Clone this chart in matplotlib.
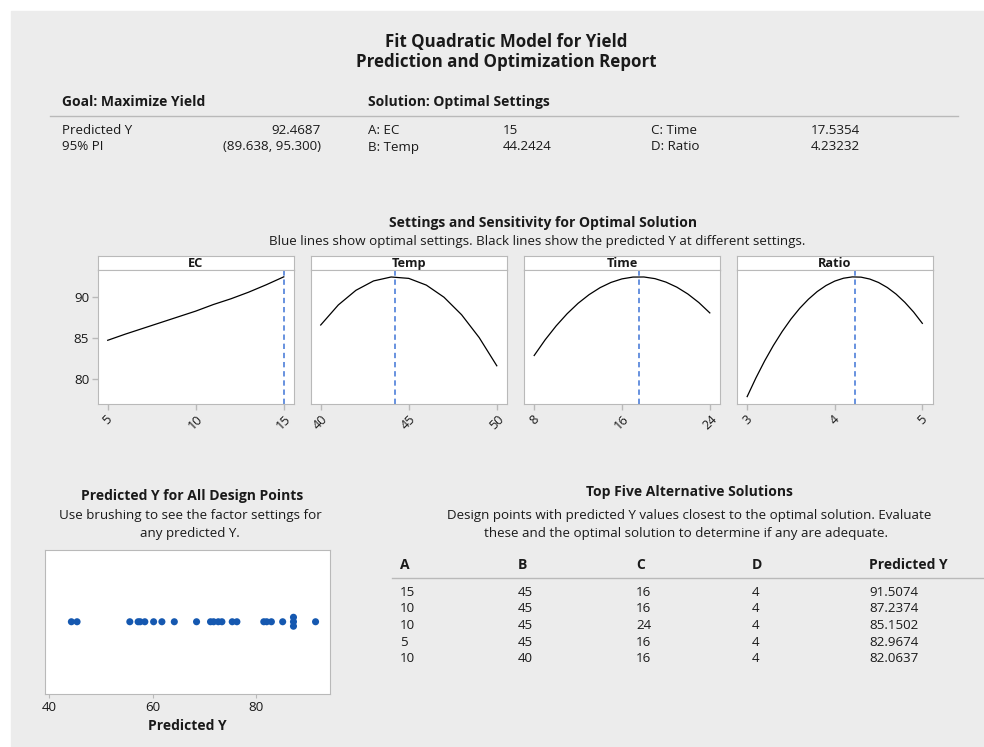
import numpy as np
import matplotlib
matplotlib.use('Agg')
import matplotlib.pyplot as plt
from matplotlib.patches import Rectangle

plt.rcParams['font.family'] = ['Open Sans', 'DejaVu Sans']

# optimal solution
goal_label = "Goal: Maximize Yield"
pred_y = "92.4687"
pred_pi = "(89.638, 95.300)"
factor_names = ["EC", "Temp", "Time", "Ratio"]
factor_codes = ["A", "B", "C", "D"]
optimal_values = [15, 44.2424, 17.5354, 4.23232]
optimal_text = ["15", "44.2424", "17.5354", "4.23232"]

# sensitivity curves (predicted Y along each factor, others held at optimum)
ec_x = [5, 6, 7, 8, 9, 10, 11, 12, 13, 14, 15]
ec_y = [84.75, 85.5, 86.2, 86.9, 87.6, 88.3, 89.1, 89.8, 90.6, 91.5, 92.47]
temp_x = [40, 41, 42, 43, 44, 45, 46, 47, 48, 49, 50]
temp_y = [86.61, 89.05, 90.83, 91.97, 92.45, 92.28, 91.46, 89.99, 87.86, 85.08, 81.65]
time_x = [8, 9, 10, 11, 12, 13, 14, 15, 16, 17, 18, 19, 20, 21, 22, 23, 24]
time_y = [82.9, 84.81, 86.5, 87.98, 89.25, 90.3, 91.15, 91.79, 92.22, 92.44,
          92.45, 92.25, 91.83, 91.21, 90.38, 89.34, 88.08]
ratio_x = [3.0, 3.1, 3.2, 3.3, 3.4, 3.5, 3.6, 3.7, 3.8, 3.9, 4.0,
           4.1, 4.2, 4.3, 4.4, 4.5, 4.6, 4.7, 4.8, 4.9, 5.0]
ratio_y = [77.9, 80.17, 82.25, 84.13, 85.82, 87.33, 88.64, 89.75, 90.68, 91.41, 91.95,
           92.3, 92.46, 92.43, 92.2, 91.78, 91.17, 90.37, 89.37, 88.19, 86.81]
curves_x = [ec_x, temp_x, time_x, ratio_x]
curves_y = [ec_y, temp_y, time_y, ratio_y]
curve_ticks = [[5, 10, 15], [40, 45, 50], [8, 16, 24], [3, 4, 5]]

# predicted Y of every design point
design_pred = [44.3, 45.4, 55.6, 57.2, 57.6, 58.5, 60.2, 61.8, 64.2, 68.5,
               71.2, 71.8, 72.7, 73.4, 75.4, 76.3, 81.5, 82.0637, 82.9674,
               85.1502, 87.2374, 87.2374, 87.2374, 91.5074]

# top five alternative solutions
alt_a = [15, 10, 10, 5, 10]
alt_b = [45, 45, 45, 45, 40]
alt_c = [16, 16, 24, 16, 16]
alt_d = [4, 4, 4, 4, 4]
alt_pred = ["91.5074", "87.2374", "85.1502", "82.9674", "82.0637"]

W, H = 984, 747
TXT = '#1a1a1a'
GRID = '#b9b9b9'
BLUE = '#3f74d6'
DOT = '#1558b0'
FS = 9.6      # body text
FB = 10.0     # bold headings

fig = plt.figure(figsize=(W / 100, H / 100), dpi=100)
fig.patch.set_facecolor('white')


def box(x0, y0, x1, y1):
    # pixel box -> figure rect
    return [x0 / W, 1 - y1 / H, (x1 - x0) / W, (y1 - y0) / H]


def put(x, y, s, **kw):
    kw.setdefault('color', TXT)
    kw.setdefault('va', 'center')
    fig.text(x / W, 1 - y / H, s, **kw)


fig.patches.append(Rectangle((11 / W, 0), 1 - 11 / W, 1 - 11 / H,
                             transform=fig.transFigure, color='#ececec', zorder=-5))

# header
put(506, 42, "Fit Quadratic Model for Yield", fontsize=12.2, weight='bold', ha='center')
put(506, 62, "Prediction and Optimization Report", fontsize=12.2, weight='bold', ha='center')

put(62, 102, goal_label, fontsize=FB, weight='bold')
put(368, 102, "Solution: Optimal Settings", fontsize=FB, weight='bold')
fig.add_artist(plt.Line2D([50 / W, 958 / W], [1 - 116 / H] * 2, color=GRID, lw=1))

put(62, 131, "Predicted Y", fontsize=FS)
put(321, 131, pred_y, fontsize=FS, ha='right')
put(62, 147, "95% PI", fontsize=FS)
put(321, 147, pred_pi, fontsize=FS, ha='right')
sol_pos = [(368, 503, 131), (368, 503, 147), (651, 811, 131), (651, 811, 147)]
for (xl, xv, yy), code, name, val in zip(sol_pos, factor_codes, factor_names, optimal_text):
    put(xl, yy, f"{code}: {name}", fontsize=FS)
    put(xv, yy, val, fontsize=FS)

# settings and sensitivity panels
put(543, 223, "Settings and Sensitivity for Optimal Solution", fontsize=FB, weight='bold', ha='center')
put(537, 242, "Blue lines show optimal settings. Black lines show the predicted Y at different settings.",
    fontsize=FS, ha='center')

panel_x = [(97.5, 294), (310.5, 507), (524, 720), (737, 932.5)]
for i, (x0, x1) in enumerate(panel_x):
    hd = fig.add_axes(box(x0, 256, x1, 270))
    hd.set_facecolor('white')
    hd.set_xticks([])
    hd.set_yticks([])
    for sp in hd.spines.values():
        sp.set_color(GRID)
    hd.text(0.5, 0.45, factor_names[i], ha='center', va='center', fontsize=9.2,
            weight='bold', color=TXT, transform=hd.transAxes)

    ax = fig.add_axes(box(x0, 270, x1, 404))
    ax.set_facecolor('white')
    ax.plot(curves_x[i], curves_y[i], color='black', lw=0.9)
    ax.axvline(optimal_values[i], color=BLUE, lw=1.1, ls=(0, (3.5, 2.5)))
    t = curve_ticks[i]
    pad = 0.058 * (t[-1] - t[0])
    ax.set_xlim(t[0] - pad, t[-1] + pad)
    ax.set_ylim(77.0, 93.3)
    ax.set_xticks(t)
    ax.set_xticklabels([str(v) for v in t], rotation=45, fontsize=9.2, color=TXT)
    ax.set_yticks([80, 85, 90])
    if i == 0:
        ax.set_yticklabels(['80', '85', '90'], fontsize=FS, color=TXT)
    else:
        ax.tick_params(axis='y', left=False, labelleft=False)
    ax.tick_params(axis='both', color=GRID, length=4, width=1, pad=2)
    for sp in ax.spines.values():
        sp.set_color(GRID)

# design point dot plot
put(192, 496, "Predicted Y for All Design Points", fontsize=FB, weight='bold', ha='center')
put(190, 515, "Use brushing to see the factor settings for", fontsize=FS, ha='center')
put(190, 533, "any predicted Y.", fontsize=FS, ha='center')

dx = fig.add_axes(box(45, 549.5, 330, 694))
dx.set_facecolor('white')
vals = np.array(design_pred)
ys = np.zeros(len(vals))
for v in np.unique(vals):
    idx = np.where(vals == v)[0]
    ys[idx] = (np.arange(len(idx)) - (len(idx) - 1) / 2) * 0.062
dx.scatter(vals, ys, s=26, color=DOT, edgecolors='none', zorder=3)
dx.set_xlim(39.2, 94.3)
dx.set_ylim(-1, 1)
dx.set_yticks([])
dx.set_xticks([40, 60, 80])
dx.set_xticklabels(['40', '60', '80'], fontsize=FS, color=TXT)
dx.tick_params(axis='x', color=GRID, length=3, pad=2)
dx.set_xlabel("Predicted Y", fontsize=FB, weight='bold', color=TXT, labelpad=4)
for sp in dx.spines.values():
    sp.set_color(GRID)

# alternative solutions table
put(689, 492, "Top Five Alternative Solutions", fontsize=FB, weight='bold', ha='center')
put(689, 515, "Design points with predicted Y values closest to the optimal solution. Evaluate",
    fontsize=FS, ha='center')
put(686, 533, "these and the optimal solution to determine if any are adequate.",
    fontsize=FS, ha='center')

col_x = [400, 518, 636, 752, 869]
for cx, lab in zip(col_x, factor_codes + ["Predicted Y"]):
    put(cx, 565, lab, fontsize=FB, weight='bold')
fig.add_artist(plt.Line2D([392 / W, 984 / W], [1 - 578 / H] * 2, color=GRID, lw=1))
row_y = [593, 609, 625.5, 642, 658]
for r, yy in enumerate(row_y):
    cells = [alt_a[r], alt_b[r], alt_c[r], alt_d[r], alt_pred[r]]
    for cx, c in zip(col_x, cells):
        put(cx, yy, str(c), fontsize=FS)

fig.savefig('out.png', dpi=100, facecolor=fig.get_facecolor())
